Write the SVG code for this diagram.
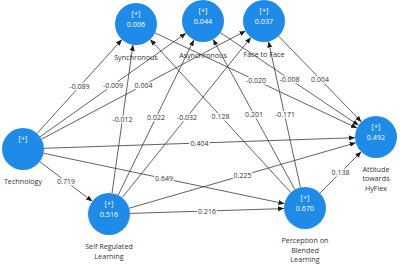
<svg xmlns="http://www.w3.org/2000/svg" width="400" height="266" viewBox="0 0 400 266">
<style>
.bg{fill:#fff}
.node circle{fill:#1E8BE8}
.in{font-family:"Open Sans","Liberation Sans",sans-serif;font-size:7.2px;fill:#fff;text-anchor:middle}
.nl{font-family:"Open Sans","Liberation Sans",sans-serif;font-size:7.2px;fill:#333;text-anchor:middle}
.edges line{stroke:#3a3a3a;stroke-width:0.8;marker-end:url(#ah)}
.cl{font-family:"Open Sans","Liberation Sans",sans-serif;font-size:7px;fill:#333;text-anchor:middle;stroke:#fff;stroke-width:3;paint-order:stroke;stroke-linejoin:round}
</style>
<defs>
<marker id="ah" markerUnits="userSpaceOnUse" markerWidth="7" markerHeight="6" refX="6" refY="2.5" orient="auto">
<path d="M0,0 L6,2.5 L0,5 z" fill="#1a1a1a"/>
</marker>
</defs>
<rect class="bg" x="0" y="0" width="400" height="266"/>
<g id="connectors" class="edges">
<line x1="37.1" y1="133.4" x2="121.9" y2="39.6"/>
<line x1="40.1" y1="136.8" x2="185.9" y2="33.2"/>
<line x1="41.5" y1="139.2" x2="245.5" y2="30.9"/>
<line x1="112.0" y1="193.2" x2="133.0" y2="44.8"/>
<line x1="118.2" y1="195.1" x2="193.8" y2="39.9"/>
<line x1="122.2" y1="197.6" x2="250.9" y2="37.4"/>
<line x1="155.0" y1="32.9" x2="357.0" y2="128.1"/>
<line x1="220.4" y1="32.7" x2="358.6" y2="125.3"/>
<line x1="278.6" y1="36.1" x2="361.4" y2="121.9"/>
<line x1="290.8" y1="192.5" x2="150.2" y2="39.5"/>
<line x1="294.9" y1="189.6" x2="213.1" y2="39.4"/>
<line x1="300.5" y1="187.5" x2="268.5" y2="41.5"/>
<line x1="44.0" y1="148.3" x2="355.0" y2="137.7"/>
<line x1="43.6" y1="153.3" x2="284.4" y2="203.7"/>
<line x1="39.8" y1="161.7" x2="92.3" y2="201.3"/>
<line x1="129.2" y1="208.2" x2="355.8" y2="142.8"/>
<line x1="130.0" y1="213.4" x2="284.0" y2="208.6"/>
<line x1="319.8" y1="193.2" x2="361.2" y2="151.8"/>
<g id="coefficients">
<text class="cl" x="79.5" y="89">-0.089</text>
<text class="cl" x="113" y="87.5">-0.009</text>
<text class="cl" x="143.5" y="87.5">0.004</text>
<text class="cl" x="122.5" y="121.5">-0.012</text>
<text class="cl" x="156" y="120">0.022</text>
<text class="cl" x="187" y="120">-0.032</text>
<text class="cl" x="256" y="83">-0.020</text>
<text class="cl" x="289.5" y="81.5">-0.008</text>
<text class="cl" x="320" y="81.5">0.004</text>
<text class="cl" x="220.5" y="118.5">0.128</text>
<text class="cl" x="254" y="117">0.201</text>
<text class="cl" x="285" y="117">-0.171</text>
<text class="cl" x="199.5" y="145.5">0.404</text>
<text class="cl" x="164" y="181">0.649</text>
<text class="cl" x="66" y="184">0.719</text>
<text class="cl" x="242.5" y="178">0.225</text>
<text class="cl" x="207" y="213.5">0.216</text>
<text class="cl" x="340.5" y="175">0.138</text>
</g>
</g>
<g id="synchronous" class="node">
<circle cx="136" cy="24" r="21"/>
<text class="in" x="136" y="15.5">[+]</text>
<text class="in" x="136" y="26.5">0.006</text>
<text class="nl" x="136" y="59.5">Synchronous</text>
</g>
<g id="asynchronous" class="node">
<circle cx="203" cy="21" r="21"/>
<text class="in" x="203" y="12.5">[+]</text>
<text class="in" x="203" y="23.5">0.044</text>
<text class="nl" x="203" y="58">Asynchronous</text>
</g>
<g id="face-to-face" class="node">
<circle cx="264" cy="21" r="21"/>
<text class="in" x="264" y="12.5">[+]</text>
<text class="in" x="264" y="23.5">0.037</text>
<text class="nl" x="264" y="56.5">Face to Face</text>
</g>
<g id="technology" class="node">
<circle cx="23" cy="149" r="21"/>
<text class="in" x="23" y="140.5">[+]</text>
<text class="nl" x="23" y="183.5">Technology</text>
</g>
<g id="self-regulated-learning" class="node">
<circle cx="109" cy="214" r="21"/>
<text class="in" x="109" y="205.5">[+]</text>
<text class="in" x="109" y="216.5">0.516</text>
<text class="nl" x="109" y="248.5">Self Regulated</text>
<text class="nl" x="109" y="258.5">Learning</text>
</g>
<g id="perception" class="node">
<circle cx="305" cy="208" r="21"/>
<text class="in" x="305" y="199.5">[+]</text>
<text class="in" x="305" y="210.5">0.670</text>
<text class="nl" x="305" y="243">Perception on</text>
<text class="nl" x="305" y="252.5">Blended</text>
<text class="nl" x="305" y="262">Learning</text>
</g>
<g id="attitude" class="node">
<circle cx="376" cy="137" r="21"/>
<text class="in" x="376" y="128.5">[+]</text>
<text class="in" x="376" y="139.5">0.492</text>
<text class="nl" x="376" y="171.5">Attitude</text>
<text class="nl" x="376" y="181">towards</text>
<text class="nl" x="376" y="190.5">HyFlex</text>
</g>
</svg>
